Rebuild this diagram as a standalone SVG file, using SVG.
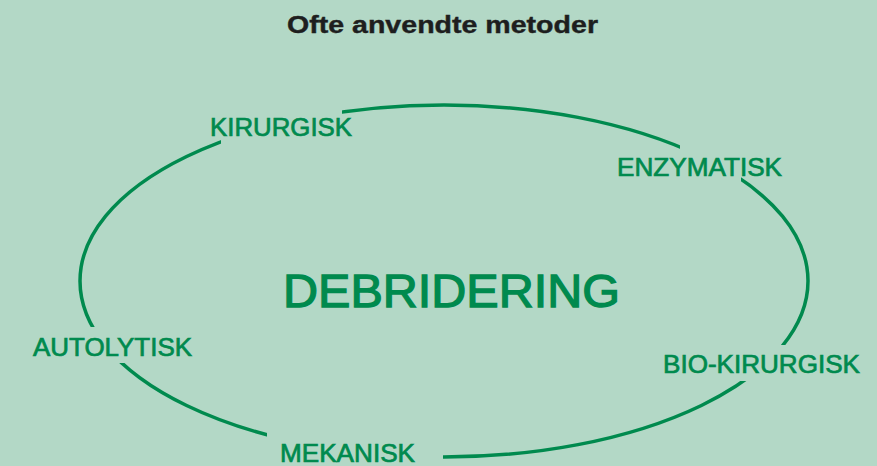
<svg xmlns="http://www.w3.org/2000/svg" width="877" height="466" viewBox="0 0 877 466">
  <defs>
    <style>
      .lbl { font-family: "Liberation Sans", Arial, sans-serif; font-size: 25px; fill: #008a4e; stroke: #008a4e; stroke-width: 0.7; }
      .title { font-family: "Liberation Sans", Arial, sans-serif; font-size: 24px; font-weight: bold; fill: #1e1e1e; stroke: #1e1e1e; stroke-width: 0.4; }
      .main { font-family: "Liberation Sans", Arial, sans-serif; font-size: 47px; fill: #008a4e; stroke: #008a4e; stroke-width: 1.3; }
      .ring { fill: none; stroke: #008a4e; stroke-width: 3.5; }
    </style>
    <mask id="gaps" maskUnits="userSpaceOnUse" x="0" y="0" width="877" height="466">
      <rect x="0" y="0" width="877" height="466" fill="#fff"/>
      <rect x="221" y="95" width="121" height="65" fill="#000"/>
      <rect x="680" y="130" width="61" height="70" fill="#000"/>
      <rect x="60" y="327" width="70" height="36" fill="#000"/>
      <rect x="730" y="345" width="90" height="36" fill="#000"/>
      <rect x="267" y="420" width="176" height="46" fill="#000"/>
    </mask>
  </defs>
  <rect x="0" y="0" width="877" height="466" fill="#b3d8c6"/>
  <g id="connectors">
    <ellipse class="ring" cx="444" cy="281" rx="364" ry="176" mask="url(#gaps)"/>
  </g>
  <g id="title"><text class="title" x="287" y="33" textLength="311" lengthAdjust="spacingAndGlyphs">Ofte anvendte metoder</text></g>
  <g id="debridering"><text class="main" x="283" y="307" textLength="337" lengthAdjust="spacingAndGlyphs">DEBRIDERING</text></g>
  <g id="kirurgisk"><text class="lbl" x="210" y="136" textLength="142" lengthAdjust="spacingAndGlyphs">KIRURGISK</text></g>
  <g id="enzymatisk"><text class="lbl" x="617" y="176" textLength="165" lengthAdjust="spacingAndGlyphs">ENZYMATISK</text></g>
  <g id="autolytisk"><text class="lbl" x="33" y="356" textLength="159" lengthAdjust="spacingAndGlyphs">AUTOLYTISK</text></g>
  <g id="bio-kirurgisk"><text class="lbl" x="663" y="373" textLength="197" lengthAdjust="spacingAndGlyphs">BIO-KIRURGISK</text></g>
  <g id="mekanisk"><text class="lbl" x="280" y="462" textLength="135" lengthAdjust="spacingAndGlyphs">MEKANISK</text></g>
</svg>
